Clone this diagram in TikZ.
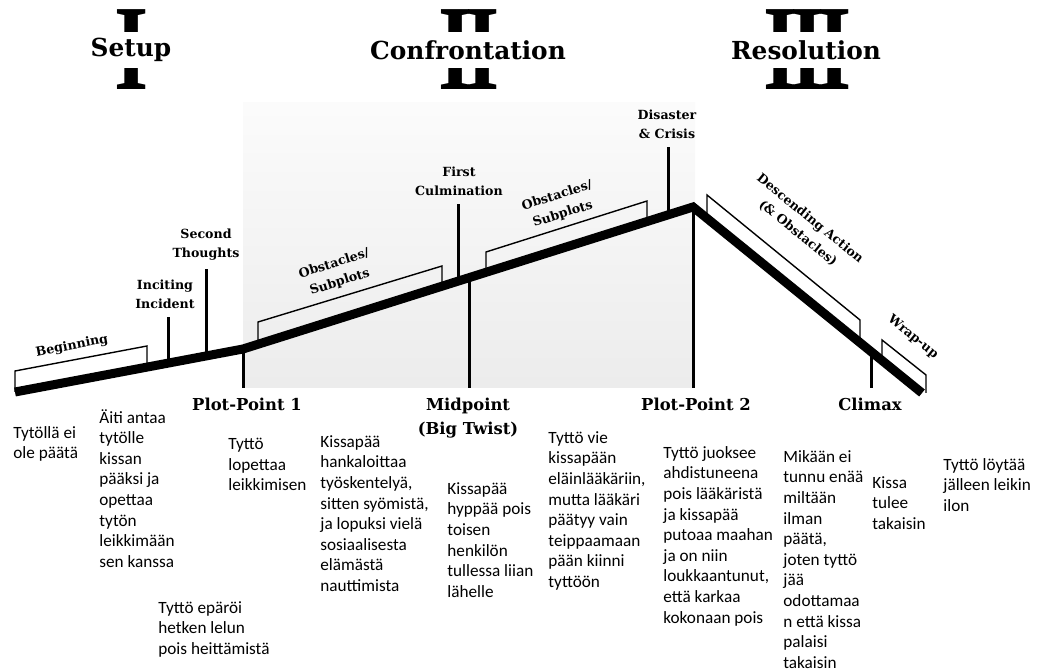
\documentclass[tikz,border=0pt]{standalone}
\usepackage{fontspec}
\usepackage{graphicx}
\setmainfont{Carlito}
\newfontfamily\labelfont{DejaVu Serif}
\newfontfamily\romanfont{Liberation Serif}
\usetikzlibrary{positioning}

\newcommand{\romanI}{\kern-2.5pt I\kern-2.5pt}

\tikzset{
  storyline/.style={line width=4.5pt, line join=miter},
  tick/.style={line width=1.5pt},
  bracket/.style={line width=0.7pt},
  numeral/.style={font=\romanfont\bfseries\fontsize{61}{61}\selectfont, inner sep=0pt, anchor=base},
  phase/.style={font=\labelfont\bfseries\fontsize{12.4}{14}\selectfont, fill=white, inner xsep=2pt, minimum height=18pt},
  beat/.style={font=\labelfont\bfseries\fontsize{6.3}{9.6}\selectfont, align=center, inner sep=0pt},
  turn/.style={font=\labelfont\bfseries\fontsize{8.2}{12}\selectfont, align=center, inner sep=0pt, anchor=north},
  note/.style={font=\fontsize{8.6}{10.3}\selectfont, align=left, anchor=north west, inner sep=0pt}
}

\begin{document}
\begin{tikzpicture}[x=0.5pt, y=-0.5pt]
    \useasboundingbox (0,0) rectangle (1042,672);

    % Confrontation panel
    \shade[top color=gray!3, bottom color=gray!15] (243,103) rectangle (695,388);

    % Acts
    \node[numeral] (act1) at (132,90) {\scalebox{0.72}[1]{\romanI}};
    \node[numeral] (act2) at (469,90) {\scalebox{0.72}[1]{\romanI\romanI}};
    \node[numeral] (act3) at (808,90) {\scalebox{0.72}[1]{\romanI\romanI\romanI}};
    \node[phase] (setup) at (131,50) {Setup};
    \node[phase] (confront) at (468,50) {Confrontation};
    \node[phase] (resolve) at (806,50) {Resolution};

    % Story line
    \coordinate (start) at (15,392);
    \coordinate (pp1) at (243,349);
    \coordinate (peak) at (693,207);
    \coordinate (finish) at (922,393);
    \coordinate (floor) at (0,388);

    % Brackets
    \draw[bracket] (15,392) -- (15,371) -- (147,346) -- (147,367);
    \draw[bracket] (258,344) -- (258,322) -- (442,266) -- (442,286);
    \draw[bracket] (486,272) -- (486,252) -- (647,201) -- (647,221);
    \draw[bracket] (707,218) -- (707,195) -- (860,320) -- (860,342);
    \draw[bracket] (882,360) -- (882,340) -- (926,375) -- (926,393);

    \draw[storyline] (start) -- (pp1) -- (peak) -- (finish);

    % Bracket labels
    \node[beat, rotate=10.7] (begin) at (72,346) {Beginning};
    \node[beat, rotate=17.5] (obst1) at (337,273) {Obstacles/\\Subplots};
    \node[beat, rotate=17.5] (obst2) at (560,205) {Obstacles/\\Subplots};
    \node[beat, rotate=-39] (descend) at (804,226) {Descending Action\\(\& Obstacles)};
    \node[beat, rotate=-39] (wrap) at (913,337) {Wrap-up};

    % Beats above the line
    \node[beat] (incite) at (165,294) {Inciting\\Incident};
    \node[beat] (second) at (206,245) {Second\\Thoughts};
    \node[beat] (culm) at (459,181) {First\\Culmination};
    \node[beat] (crisis) at (667,124) {Disaster\\\& Crisis};
    \coordinate (c1) at (168,363);
    \coordinate (c2) at (206,356);
    \coordinate (c3) at (458,281);
    \coordinate (c4) at (668,215);
    \draw[tick, shorten >=4pt] (c1) -- (c1 |- incite.south);
    \draw[tick, shorten >=4pt] (c2) -- (c2 |- second.south);
    \draw[tick, shorten >=4pt] (c3) -- (c3 |- culm.south);
    \draw[tick, shorten >=4pt] (c4) -- (c4 |- crisis.south);

    % Turning points below the line
    \coordinate (mid) at (469,278);
    \coordinate (climax) at (871,352);
    \draw[tick] (pp1) -- (pp1 |- floor);
    \draw[tick] (mid) -- (mid |- floor);
    \draw[tick] (peak) -- (peak |- floor);
    \draw[tick] (climax) -- (climax |- floor);
    \node[turn] (pp1label) at (247,398) {Plot-Point 1};
    \node[turn] (midlabel) at (468,398) {Midpoint\\(Big Twist)};
    \node[turn] (pp2label) at (696,398) {Plot-Point 2};
    \node[turn] (climaxlabel) at (870,398) {Climax};

    % Story notes
    \node[note] (n1) at (13,426) {Tytöllä ei\\ole päätä};
    \node[note] (n2) at (99,409) {Äiti antaa\\tytölle\\kissan\\pääksi ja\\opettaa\\tytön\\leikkimään\\sen kanssa};
    \node[note] (n3) at (228,438) {Tyttö\\lopettaa\\leikkimisen};
    \node[note] (n4) at (158,601) {Tyttö epäröi\\hetken lelun\\pois heittämistä};
    \node[note] (n5) at (320,435) {Kissapää\\hankaloittaa\\työskentelyä,\\sitten syömistä,\\ja lopuksi vielä\\sosiaalisesta\\elämästä\\nauttimista};
    \node[note] (n6) at (447,482) {Kissapää\\hyppää pois\\toisen\\henkilön\\tullessa liian\\lähelle};
    \node[note] (n7) at (548,431) {Tyttö vie\\kissapään\\eläinlääkäriin,\\mutta lääkäri\\päätyy vain\\teippaamaan\\pään kiinni\\tyttöön};
    \node[note] (n8) at (663,446) {Tyttö juoksee\\ahdistuneena\\pois lääkäristä\\ja kissapää\\putoaa maahan\\ja on niin\\loukkaantunut,\\että karkaa\\kokonaan pois};
    \node[note] (n9) at (783,450) {Mikään ei\\tunnu enää\\miltään\\ilman\\päätä,\\joten tyttö\\jää\\odottamaa\\n että kissa\\palaisi\\takaisin};
    \node[note] (n10) at (872,476) {Kissa\\tulee\\takaisin};
    \node[note] (n11) at (943,458) {Tyttö löytää\\jälleen leikin\\ilon};
\end{tikzpicture}
\end{document}
